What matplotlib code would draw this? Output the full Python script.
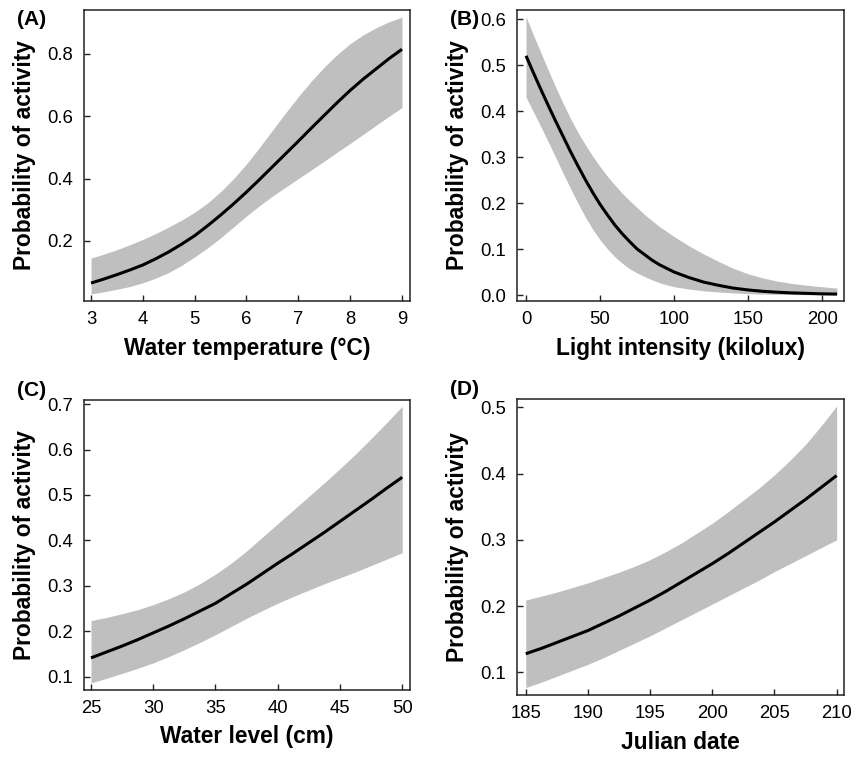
import numpy as np
import matplotlib
matplotlib.use("Agg")
import matplotlib.pyplot as plt
from matplotlib.ticker import FormatStrFormatter

plt.rcParams['font.family'] = ['Liberation Sans', 'DejaVu Sans']

# (A) water temperature
temp_x = [3, 3.25, 3.5, 3.75, 4, 4.25, 4.5, 4.75, 5, 5.25, 5.5, 5.75, 6,
          6.25, 6.5, 6.75, 7, 7.25, 7.5, 7.75, 8, 8.25, 8.5, 8.75, 9]
temp_mean = [0.065, 0.078, 0.092, 0.107, 0.123, 0.143, 0.165, 0.19, 0.217, 0.249, 0.283, 0.319, 0.357,
             0.397, 0.438, 0.479, 0.52, 0.562, 0.603, 0.644, 0.683, 0.719, 0.752, 0.785, 0.815]
temp_upper = [0.145, 0.158, 0.172, 0.188, 0.205, 0.224, 0.245, 0.267, 0.292, 0.322, 0.358, 0.40, 0.447,
              0.50, 0.555, 0.61, 0.663, 0.713, 0.758, 0.798, 0.833, 0.861, 0.884, 0.903, 0.918]
temp_lower = [0.030, 0.037, 0.045, 0.054, 0.066, 0.081, 0.099, 0.122, 0.149, 0.178, 0.21, 0.245, 0.28,
              0.313, 0.344, 0.372, 0.40, 0.428, 0.456, 0.485, 0.513, 0.542, 0.571, 0.60, 0.628]

# (B) light intensity
light_x = [0, 5, 10, 15, 20, 25, 30, 35, 40, 45, 50, 55, 60, 65, 70, 75, 80, 85, 90, 95, 100,
           110, 120, 130, 140, 150, 160, 170, 180, 190, 200, 210]
light_mean = [0.52, 0.483, 0.447, 0.412, 0.378, 0.345, 0.312, 0.281, 0.251, 0.223, 0.197, 0.174, 0.152,
              0.133, 0.116, 0.10, 0.088, 0.076, 0.066, 0.058, 0.05,
              0.038, 0.028, 0.021, 0.015, 0.011, 0.008, 0.006, 0.0045, 0.0035, 0.0025, 0.002]
light_upper = [0.605, 0.565, 0.527, 0.489, 0.452, 0.417, 0.384, 0.354, 0.327, 0.302, 0.279, 0.258, 0.239,
               0.221, 0.205, 0.19, 0.175, 0.162, 0.149, 0.138, 0.127,
               0.107, 0.089, 0.073, 0.058, 0.046, 0.037, 0.03, 0.025, 0.021, 0.018, 0.015]
light_lower = [0.43, 0.398, 0.366, 0.333, 0.299, 0.265, 0.232, 0.20, 0.17, 0.143, 0.12, 0.10, 0.083,
               0.069, 0.057, 0.048, 0.04, 0.033, 0.027, 0.022, 0.018,
               0.013, 0.009, 0.0065, 0.0045, 0.003, 0.002, 0.0015, 0.001, 0.0008, 0.0006, 0.0005]

# (C) water level
level_x = [25, 26.25, 27.5, 28.75, 30, 31.25, 32.5, 33.75, 35, 36.25, 37.5,
           38.75, 40, 41.25, 42.5, 43.75, 45, 46.25, 47.5, 48.75, 50]
level_mean = [0.142, 0.155, 0.168, 0.182, 0.197, 0.212, 0.228, 0.245, 0.262, 0.283, 0.304,
              0.327, 0.350, 0.372, 0.395, 0.418, 0.442, 0.466, 0.49, 0.515, 0.539]
level_upper = [0.224, 0.231, 0.239, 0.248, 0.259, 0.272, 0.287, 0.305, 0.326, 0.35, 0.377,
               0.407, 0.437, 0.467, 0.497, 0.527, 0.558, 0.59, 0.624, 0.659, 0.695]
level_lower = [0.087, 0.097, 0.108, 0.119, 0.131, 0.145, 0.16, 0.176, 0.193, 0.211, 0.229,
               0.246, 0.262, 0.277, 0.291, 0.305, 0.318, 0.331, 0.345, 0.359, 0.373]

# (D) julian date
date_x = [185, 186.25, 187.5, 188.75, 190, 191.25, 192.5, 193.75, 195, 196.25, 197.5,
          198.75, 200, 201.25, 202.5, 203.75, 205, 206.25, 207.5, 208.75, 210]
date_mean = [0.128, 0.136, 0.145, 0.154, 0.163, 0.174, 0.185, 0.197, 0.209, 0.222, 0.236,
             0.25, 0.264, 0.279, 0.295, 0.311, 0.327, 0.344, 0.361, 0.379, 0.397]
date_upper = [0.209, 0.215, 0.221, 0.228, 0.235, 0.243, 0.251, 0.26, 0.27, 0.282, 0.295,
              0.31, 0.325, 0.342, 0.36, 0.378, 0.398, 0.42, 0.444, 0.472, 0.502]
date_lower = [0.077, 0.085, 0.094, 0.103, 0.112, 0.122, 0.133, 0.144, 0.155, 0.167, 0.179,
              0.191, 0.203, 0.215, 0.227, 0.239, 0.252, 0.264, 0.276, 0.288, 0.30]

panels = [
    ('(A)', 'Water temperature (°C)', temp_x, temp_mean, temp_upper, temp_lower,
     [3, 4, 5, 6, 7, 8, 9], [0.2, 0.4, 0.6, 0.8], (2.865, 9.154), (0.0075, 0.941),
     [0.0977, 0.6024, 0.379, 0.3844]),
    ('(B)', 'Light intensity (kilolux)', light_x, light_mean, light_upper, light_lower,
     [0, 50, 100, 150, 200], [0.0, 0.1, 0.2, 0.3, 0.4, 0.5, 0.6], (-5.9, 214.9), (-0.013, 0.6196),
     [0.6015, 0.6024, 0.3802, 0.3844]),
    ('(C)', 'Water level (cm)', level_x, level_mean, level_upper, level_lower,
     [25, 30, 35, 40, 45, 50], [0.1, 0.2, 0.3, 0.4, 0.5, 0.6, 0.7], (24.44, 50.62), (0.0714, 0.7088),
     [0.0977, 0.0885, 0.379, 0.3831]),
    ('(D)', 'Julian date', date_x, date_mean, date_upper, date_lower,
     [185, 190, 195, 200, 205, 210], [0.1, 0.2, 0.3, 0.4, 0.5], (184.32, 210.61), (0.0657, 0.5125),
     [0.6015, 0.0819, 0.3802, 0.391]),
]

fig = plt.figure(figsize=(8.6, 7.57), dpi=100)

for tag, xlab, x, m, up, lo, xt, yt, xl, yl, pos in panels:
    ax = fig.add_axes(pos)
    ax.fill_between(x, lo, up, color='#bfbfbf', linewidth=0)
    ax.plot(x, m, color='black', linewidth=2.2, solid_capstyle='butt')
    ax.set_xlim(xl)
    ax.set_ylim(yl)
    ax.set_xticks(xt)
    ax.set_yticks(yt)
    ax.yaxis.set_major_formatter(FormatStrFormatter('%.1f'))
    ax.tick_params(direction='in', length=4.5, width=1, labelsize=13.3, color='#222222')
    ax.tick_params(axis='y', pad=8)
    ax.tick_params(axis='x', pad=7.5)
    for s in ax.spines.values():
        s.set_linewidth(1.1)
        s.set_color('#222222')
    ax.set_xlabel(xlab, fontsize=16.4, fontweight='bold', va='center')
    ax.set_ylabel('Probability of activity', fontsize=16.4, fontweight='bold', va='center', ha='center')
    ax.xaxis.set_label_coords(0.5, -0.162)
    ax.yaxis.set_label_coords(-0.182, 0.5)
    # panel tag sits left of the upper corner
    ax.text(-0.205, 1.0, tag, transform=ax.transAxes, fontsize=15, fontweight='bold',
            ha='left', va='top' if tag in ('(A)', '(B)') else 'bottom')

fig.savefig('out.png', dpi=100)
